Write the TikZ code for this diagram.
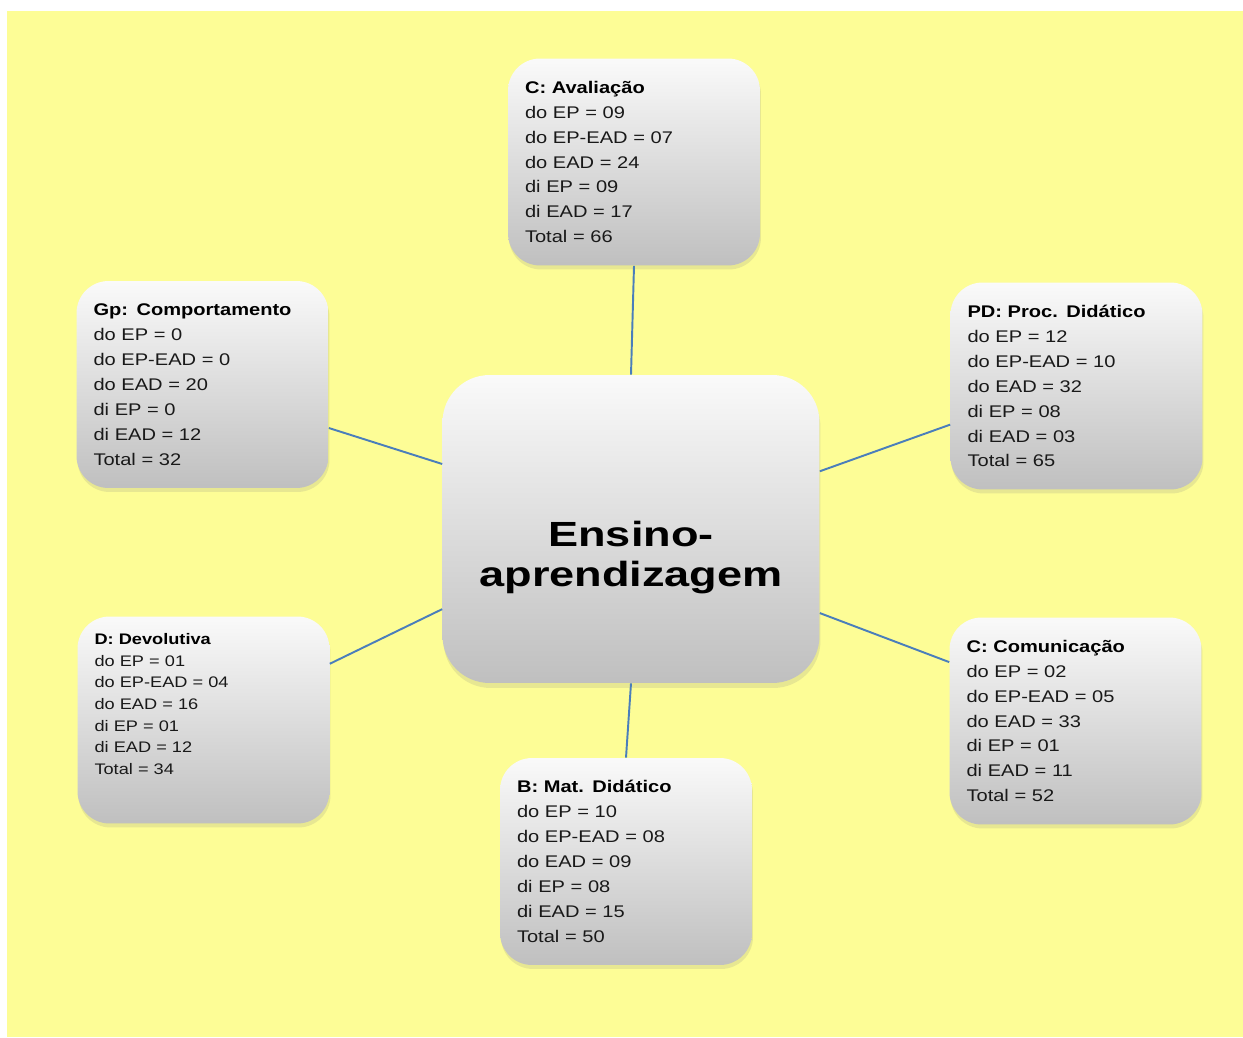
\documentclass[tikz,border=0pt]{standalone}
\usepackage{fontspec}
\setmainfont{Liberation Sans}[FakeStretch=1.19]
\newfontfamily\hubfont{Liberation Sans}[FakeStretch=1.29]
\usetikzlibrary{shadows}

\definecolor{fundo}{RGB}{253,253,150}
\definecolor{linha}{RGB}{74,126,187}
\definecolor{corpo}{RGB}{25,25,25}

\tikzset{
  cartao/.style={rectangle, rounded corners=0.64cm, minimum width=5.04cm, minimum height=4.14cm,
    text width=4.36cm, inner xsep=0.34cm, inner ysep=2pt, align=left,
    top color=gray!4, middle color=gray!10, bottom color=gray!50,
    drop shadow={shadow xshift=0.02cm, shadow yshift=-0.08cm, opacity=0.17},
    text=corpo, font=\fontsize{9.6}{14.2}\selectfont},
  miudo/.style={font=\fontsize{8.7}{12.3}\selectfont, text depth=92pt},
  centro/.style={rectangle, rounded corners=0.94cm, minimum width=7.54cm, minimum height=6.16cm,
    top color=gray!4, middle color=gray!10, bottom color=gray!50,
    drop shadow={shadow xshift=0.02cm, shadow yshift=-0.1cm, opacity=0.17}},
  liga/.style={draw=linha, line width=1.1pt}
}

\begin{document}
\begin{tikzpicture}[x=0.02cm, y=-0.02cm]
    % fundo amarelo
    \useasboundingbox (0,0) rectangle (1243,1037);
    \fill[fundo] (7,11) rectangle (1243,1037);

    % no central
    \node[centro] (hub) at (631,529) {};
    \node[inner sep=0pt, align=center, font=\hubfont\bfseries\fontsize{19.9}{22.8}\selectfont] (hubtxt) at (631,558) {Ensino-\\aprendizagem};

    % categorias
    \node[cartao] (aval) at (634,162) {\textbf{\textcolor{black}{C: Avaliação}}\\
      do EP = 09\\ do EP-EAD = 07\\ do EAD = 24\\ di EP = 09\\ di EAD = 17\\ Total = 66};
    \node[cartao] (comp) at (202.5,384.5) {\textbf{\textcolor{black}{Gp: Comportamento}}\\
      do EP = 0\\ do EP-EAD = 0\\ do EAD = 20\\ di EP = 0\\ di EAD = 12\\ Total = 32};
    \node[cartao] (proc) at (1076.5,386) {\textbf{\textcolor{black}{PD: Proc. Didático}}\\
      do EP = 12\\ do EP-EAD = 10\\ do EAD = 32\\ di EP = 08\\ di EAD = 03\\ Total = 65};
    \node[cartao, miudo] (devo) at (203.5,720) {\textbf{\textcolor{black}{D: Devolutiva}}\\
      do EP = 01\\ do EP-EAD = 04\\ do EAD = 16\\ di EP = 01\\ di EAD = 12\\ Total = 34};
    \node[cartao] (comu) at (1075.5,721) {\textbf{\textcolor{black}{C: Comunicação}}\\
      do EP = 02\\ do EP-EAD = 05\\ do EAD = 33\\ di EP = 01\\ di EAD = 11\\ Total = 52};
    \node[cartao] (mat) at (626,861.5) {\textbf{\textcolor{black}{B: Mat. Didático}}\\
      do EP = 10\\ do EP-EAD = 08\\ do EAD = 09\\ di EP = 08\\ di EAD = 15\\ Total = 50};

    % ligacoes
    \draw[liga] (hub.north) -- (aval.south);
    \draw[liga] (hub.161.2) -- (comp.341.7);
    \draw[liga] (hub.17.9) -- (proc.197.3);
    \draw[liga] (hub.203.8) -- (devo.24.6);
    \draw[liga] (hub.336.8) -- (comu.155.9);
    \draw[liga] (hub.south) -- (mat.north);
\end{tikzpicture}
\end{document}
